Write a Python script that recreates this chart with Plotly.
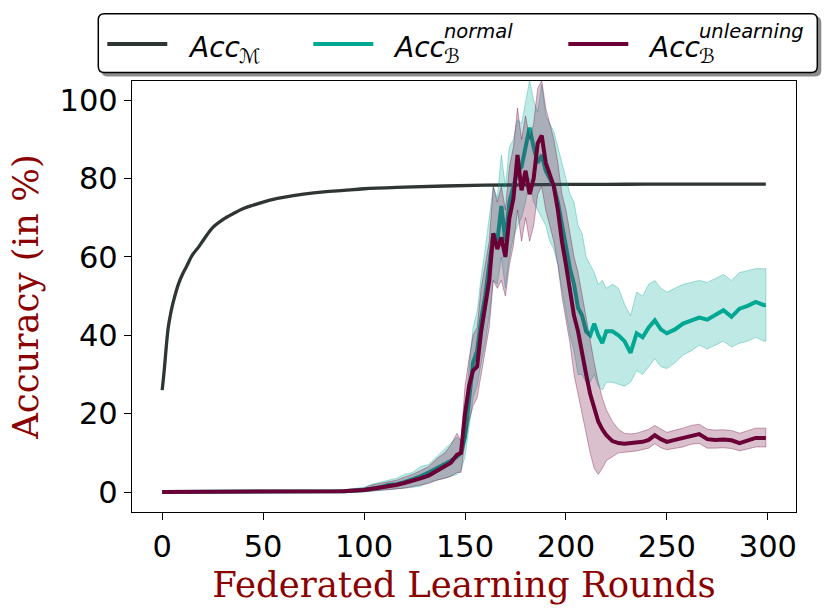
import plotly.graph_objects as go

# ---- data ----
rounds_m = [0, 1, 2, 3, 4, 5, 6, 8, 10, 12, 15, 18, 20, 25, 30, 35, 40, 45, 50, 55,
            60, 70, 80, 90, 100, 120, 140, 160, 180, 200, 220, 240, 260, 280, 299]
acc_m = [26, 31, 37, 42, 45, 47.5, 49.5, 53, 55.5, 57.5, 60.5, 62.5, 64, 67.5, 69.5, 71, 72.3, 73.2, 74, 74.7,
         75.2, 76, 76.6, 77, 77.4, 77.8, 78.1, 78.3, 78.4, 78.5, 78.5, 78.6, 78.6, 78.6, 78.6]

rounds_b = [0, 10, 20, 30, 40, 50, 60, 70, 80, 90, 100,
            104, 108, 112, 116, 120, 124, 128, 132, 136, 140,
            143, 146, 148,
            150, 152, 154, 156, 158, 160, 162, 164, 166, 168,
            170, 172, 174, 176, 178, 180, 182, 184, 186, 188,
            190, 192, 194, 196, 198, 200, 202, 204, 206, 208,
            210, 212, 214, 216, 218, 220,
            223, 226, 229, 232, 235, 238, 241, 244, 247, 250,
            254, 258, 262, 266, 270, 274, 278, 282, 286, 290, 294, 298, 299]

# Acc_B normal: mean, upper and lower band
acc_nor = [0, 0, 0, 0, 0, 0, 0, 0, 0, 0.2, 0.5,
           0.8, 1.2, 1.8, 2, 2.5, 3.2, 4, 5, 6, 7,
           8, 9, 10,
           14, 24, 33, 36, 44, 50, 58, 66, 64, 73,
           64, 74, 78, 82, 83, 88, 93, 88, 84, 86,
           82, 80, 78, 74, 68, 62, 57, 53, 47, 45,
           41, 40, 43, 40, 38, 41,
           41, 40, 38.5, 35.5, 40.5, 39.5, 42, 43.8, 41.5, 40.5,
           41.5, 43, 43.8, 44.5, 44, 45.2, 46.4, 44.7, 46.8, 47.5, 48.5, 47.7, 47.8]
nor_hi = [0.3, 0.3, 0.3, 0.3, 0.3, 0.3, 0.3, 0.3, 0.3, 0.6, 1.2,
          2, 2.5, 3, 3.5, 4.5, 5, 6.5, 7, 9, 11,
          12.5, 14, 13,
          18, 32, 42, 46, 55, 62, 70, 78, 75, 86,
          78, 88, 90, 95, 94, 100, 105, 100, 97, 104,
          96, 94, 92, 88, 84, 80, 76, 74, 68, 66,
          60, 58, 56, 53, 54, 52,
          53, 52, 48, 45, 51, 50, 53, 54, 52, 51,
          52, 53, 53.5, 54, 53.5, 54.5, 55.5, 54, 56, 56.5, 57, 57, 57]
nor_lo = [0, 0, 0, 0, 0, 0, 0, 0, 0, 0, 0,
          0.2, 0.3, 0.6, 0.8, 1, 1.2, 1.5, 2.5, 3, 3.5,
          4, 4.5, 5.5,
          9, 16, 24, 27, 33, 38, 45, 54, 53, 60,
          52, 60, 65, 68, 70, 74, 80, 74, 72, 70,
          68, 64, 62, 58, 52, 46, 40, 36, 30, 30,
          28, 28, 30, 27, 26, 28,
          28, 27.5, 27, 28, 31, 30, 32, 34, 32, 31.5,
          33, 35, 36, 37.5, 36.5, 37.5, 38.5, 37, 38, 38.5, 39.5, 38.5, 38.5]

# Acc_B unlearning: mean, upper and lower band
acc_unl = [0, 0, 0, 0, 0, 0, 0, 0, 0, 0.2, 0.5,
           0.8, 1.2, 1.5, 1.8, 2.3, 2.8, 3.5, 4.2, 5.5, 6.5,
           7.5, 9.5, 10,
           20, 27, 31, 32, 41, 47, 54, 66, 62, 65,
           60, 70, 75, 86, 77, 82, 76, 80, 89, 91,
           84, 81, 78, 72, 64, 58, 52, 45, 41, 35,
           30, 25, 21, 18, 16, 14.5,
           13, 12.5, 12.3, 12.4, 12.5, 12.8, 13.3, 14.5, 13.5, 12.8,
           13.3, 13.8, 14.5, 14.8, 13.5, 13.3, 13.4, 13.2, 12.5, 13.2, 13.8, 13.8, 13.8]
unl_hi = [0.3, 0.3, 0.3, 0.3, 0.3, 0.3, 0.3, 0.3, 0.3, 0.6, 1,
          1.8, 2.2, 2.6, 3, 3.8, 4.5, 5.5, 6.5, 8.5, 10,
          12, 15, 13,
          27, 34, 40, 42, 52, 58, 64, 78, 74, 78,
          72, 83, 88, 98, 90, 96, 90, 94, 103, 105,
          98, 94, 90, 84, 76, 72, 66, 60, 56, 50,
          44, 38, 33, 28, 24, 21,
          18, 16, 15, 14.8, 15, 15.5, 16, 17, 16, 15.2,
          15.8, 16.3, 17, 17.3, 16, 15.8, 15.9, 15.7, 15, 15.7, 16.3, 16.3, 16.3]
unl_lo = [0, 0, 0, 0, 0, 0, 0, 0, 0, 0, 0.1,
          0.2, 0.4, 0.6, 0.8, 1, 1.3, 1.8, 2.2, 3, 3.5,
          4, 5, 5,
          13, 18, 22, 24, 30, 36, 42, 54, 52, 54,
          50, 58, 63, 72, 64, 70, 64, 68, 76, 78,
          72, 68, 64, 58, 50, 44, 38, 30, 25, 20,
          15, 10, 6, 4.5, 6, 8,
          9, 10, 10.2, 10.3, 10.5, 10.8, 11.2, 12.3, 11.3, 10.8,
          11.2, 11.5, 12.2, 12.4, 11.2, 11.2, 11.3, 11.1, 10.5, 11, 11.5, 11.5, 11.5]

x_ticks = [0, 50, 100, 150, 200, 250, 300]
y_ticks = [0, 20, 40, 60, 80, 100]

GRAY = '#2e3532'
TEAL = '#00a894'
MAROON = '#6b0036'

# plot area in pixels (830x614 page)
PL, PR, PT, PB = 131.7, 795.7, 80.5, 512.3


def px(x):
    return (x - PL) / (PR - PL)


def py(y):
    return (PB - y) / (PB - PT)


def rgba(hexcode, a):
    h = hexcode.lstrip('#')
    r, g, b = (int(h[i:i + 2], 16) for i in (0, 2, 4))
    return f'rgba({r},{g},{b},{a})'


def band(x, lo, hi, color):
    return go.Scatter(x = x + x[::-1], y = hi + lo[::-1], fill = 'toself',
                      fillcolor = rgba(color, 0.25), mode = 'lines',
                      line = dict(color = rgba(color, 0.35), width = 1),
                      hoverinfo = 'skip', showlegend = False)


fig = go.Figure()
fig.add_trace(go.Scatter(x = rounds_m, y = acc_m, mode = 'lines', line_shape = 'spline',
                         line = dict(color = GRAY, width = 3.3), showlegend = False))
fig.add_trace(band(rounds_b, nor_lo, nor_hi, TEAL))
fig.add_trace(go.Scatter(x = rounds_b, y = acc_nor, mode = 'lines',
                         line = dict(color = TEAL, width = 4), showlegend = False))
fig.add_trace(band(rounds_b, unl_lo, unl_hi, MAROON))
fig.add_trace(go.Scatter(x = rounds_b, y = acc_unl, mode = 'lines',
                         line = dict(color = MAROON, width = 4), showlegend = False))

axis_style = dict(showline = True, mirror = True, linecolor = 'black', linewidth = 1.3,
                  ticks = 'outside', ticklen = 7, tickwidth = 1.3, tickcolor = 'black',
                  showgrid = False, zeroline = False, automargin = False,
                  tickfont = dict(family = 'DejaVu Sans', size = 30.5, color = 'black'))
title_font = dict(family = 'DejaVu Serif', size = 35.5, color = '#8b0000')

fig.update_xaxes(range = [-14.95, 313.95], tickvals = x_ticks,
                 title = dict(text = 'Federated Learning Rounds', font = title_font, standoff = 6),
                 **axis_style)
fig.update_yaxes(range = [-5.1, 104.9], tickvals = y_ticks,
                 title = dict(text = 'Accuracy (in %)', font = title_font, standoff = 10),
                 **axis_style)

# hand-made legend box with rounded corners and drop shadow
def rounded(x0, y0, x1, y1, r):
    a, b, c, d = px(x0), px(x1), py(y0), py(y1)
    rx = r / (PR - PL)
    ry = r / (PB - PT)
    return (f'M {a + rx},{c} L {b - rx},{c} Q {b},{c} {b},{c - ry} '
            f'L {b},{d + ry} Q {b},{d} {b - rx},{d} L {a + rx},{d} '
            f'Q {a},{d} {a},{d + ry} L {a},{c - ry} Q {a},{c} {a + rx},{c} Z')


shapes = [
    dict(type = 'path', xref = 'paper', yref = 'paper', path = rounded(101, 16, 821, 76, 6),
         fillcolor = 'rgba(0,0,0,0.45)', line = dict(width = 0)),
    dict(type = 'path', xref = 'paper', yref = 'paper', path = rounded(98, 13, 817, 72, 6),
         fillcolor = 'white', line = dict(color = 'black', width = 1.5)),
]

entries = [(107, 167, GRAY, 187, 'ℳ', ''), (313, 373, TEAL, 392, 'ℬ', 'normal'),
           (568, 628, MAROON, 647, 'ℬ', 'unlearning')]
annotations = []
for x0, x1, color, tx, sub, sup in entries:
    shapes.append(dict(type = 'line', xref = 'paper', yref = 'paper',
                       x0 = px(x0), x1 = px(x1), y0 = py(43.5), y1 = py(43.5),
                       line = dict(color = color, width = 4)))
    annotations.append(dict(xref = 'paper', yref = 'paper', x = px(tx), y = py(47),
                            xanchor = 'left', yanchor = 'middle', showarrow = False,
                            text = '<i>Acc</i>', borderpad = 0,
                            font = dict(family = 'DejaVu Sans', size = 28, color = 'black')))
    annotations.append(dict(xref = 'paper', yref = 'paper', x = px(tx + 51), y = py(55),
                            xanchor = 'left', yanchor = 'middle', showarrow = False,
                            text = sub, borderpad = 0,
                            font = dict(family = 'DejaVu Sans', size = 20, color = 'black')))
    if sup:
        annotations.append(dict(xref = 'paper', yref = 'paper', x = px(tx + 51), y = py(31),
                                xanchor = 'left', yanchor = 'middle', showarrow = False,
                                text = f'<i>{sup}</i>', borderpad = 0,
                                font = dict(family = 'DejaVu Sans', size = 19.5, color = 'black')))

fig.update_layout(width = 830, height = 614,
                  margin = dict(l = PL, r = 830 - PR, t = PT, b = 614 - PB),
                  paper_bgcolor = 'white', plot_bgcolor = 'white',
                  showlegend = False, shapes = shapes, annotations = annotations)

fig.write_html('out.html', config = {'displayModeBar': False},
               post_script = "document.body.style.margin = '0';")
